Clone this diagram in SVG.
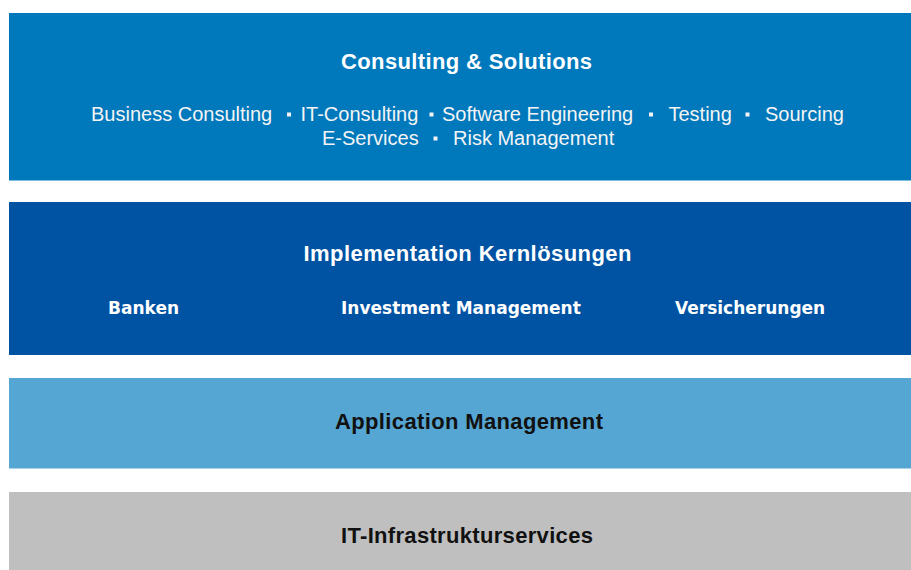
<svg xmlns="http://www.w3.org/2000/svg" width="911" height="570" viewBox="0 0 911 570">
<style>
.title{font-family:"Liberation Sans",Arial,sans-serif;font-weight:bold;font-size:22px;text-anchor:middle}
.body{font-family:"Liberation Sans",Arial,sans-serif;font-size:20px;fill:#f4f4f4}
.sub{font-family:"DejaVu Sans",Verdana,sans-serif;font-weight:bold;font-size:17px;fill:#ffffff}
.w{fill:#ffffff}
.dot{fill:#f4f4f4}
</style>
<rect width="911" height="570" fill="#ffffff"/>
<g id="consulting">
<rect x="9" y="13" width="902" height="167.5" fill="#0078BC"/>
<text class="title w" x="466.5" y="69" textLength="251">Consulting &amp; Solutions</text>
<text class="body" x="91" y="121">Business Consulting</text>
<rect class="dot" x="287" y="112.5" width="4" height="4"/>
<text class="body" x="300.5" y="121">IT-Consulting</text>
<rect class="dot" x="429.5" y="112.5" width="4" height="4"/>
<text class="body" x="442" y="121">Software Engineering</text>
<rect class="dot" x="649" y="112.5" width="4" height="4"/>
<text class="body" x="668.5" y="121">Testing</text>
<rect class="dot" x="745.5" y="112.5" width="4" height="4"/>
<text class="body" x="765" y="121">Sourcing</text>
<text class="body" x="322" y="145">E-Services</text>
<rect class="dot" x="433.5" y="136.5" width="4" height="4"/>
<text class="body" x="453" y="145">Risk Management</text>
</g>
<g id="implementation">
<rect x="9" y="202" width="902" height="153" fill="#0052A3"/>
<text class="title w" x="467.5" y="261" textLength="328">Implementation Kernlösungen</text>
<text class="sub" x="108" y="314">Banken</text>
<text class="sub" x="341" y="314">Investment Management</text>
<text class="sub" x="675" y="314">Versicherungen</text>
</g>
<g id="application">
<rect x="9" y="378" width="902" height="90.5" fill="#56A6D3"/>
<text class="title" x="469" y="428.5" fill="#111111" textLength="268">Application Management</text>
</g>
<g id="infrastructure">
<rect x="9" y="492" width="902" height="78" fill="#BFBFBF"/>
<text class="title" x="467" y="543" fill="#111111" textLength="252">IT-Infrastrukturservices</text>
</g>
<g id="connectors"/>
</svg>
